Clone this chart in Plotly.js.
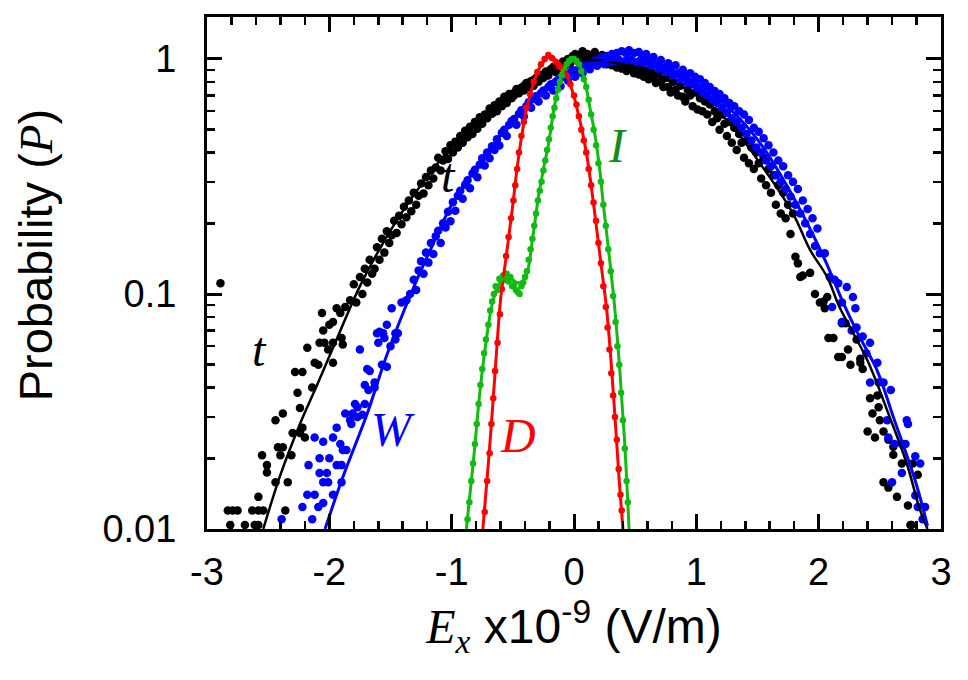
<!DOCTYPE html>
<html>
<head>
<meta charset="utf-8">
<script src="https://cdn.plot.ly/plotly-3.0.1.min.js"></script>
<style>html,body{margin:0;padding:0;background:#fff;}#chart{width:968px;height:680px;}</style>
</head>
<body>
<div id="chart"></div>
<script>
// ---- t (black) data points ----
const tPtsX = [-2.89,-2.81,-2.69,-2.61,-2.58,-2.83,-2.79,-2.75,-2.63,-2.58,-2.54,-2.58,-2.36,-2.51,-2.51,-2.55,-2.44,-2.34,-2.42,-2.38,-2.40,-2.31,-2.44,-2.38,-2.30,-2.24,-2.22,-2.24,-2.26,-2.28,-2.22,-2.20,-2.14,-2.18,-2.12,-2.09,-2.08,-2.05,-2.00,-2.06,-2.04,-2.01,-1.97,-1.97,-1.94,-1.91,-1.87,-1.89,-1.90,-1.97,
 -1.83,-1.80,-1.78,-1.75,-1.73,-1.71,-1.69,-1.67,-1.65,-1.63,-1.61,-1.59,-1.57,-1.55,-1.53,-1.51,-1.49,-1.47,-1.45,-1.43,-1.41,-1.39,-1.37,-1.35,-1.33,-1.31,-1.29,-1.27,-1.25,-1.23,-1.21,-1.19,-1.17,-1.15,-1.13,-1.11,-1.09,-1.07,-1.05,-1.03,-1.01,-0.99,-0.97,-0.95,-0.93,-0.91,-0.89,-0.87,-0.85,-0.83,-0.81,-0.79,-0.77,-0.75,-0.73,-0.71,-0.69,-0.67,-0.65,-0.63,-0.61,-0.59,-0.57,-0.55,-0.53,-0.51,-0.49,-0.47,-0.45,-0.43,-0.41,-0.39,-0.37,-0.35,-0.33,-0.31,-0.29,-0.27,-0.25,-0.23,-0.21,-0.19,-0.17,-0.15,-0.13,-0.11,-0.09,-0.07,-0.05,-0.03,-0.01,0.01,0.03,0.05,0.07,0.09,0.11,0.13,0.15,0.17,0.19,0.21,0.23,0.25,0.27,0.29,0.31,0.33,0.35,0.37,0.39,0.41,0.43,0.45,0.47,0.49,0.51,0.53,0.55,0.57,0.59,0.61,0.63,0.65,0.67,0.69,0.71,0.73,0.75,0.77,0.79,0.81,0.83,0.85,0.87,0.89,0.91,0.93,0.95,0.97,0.99,1.01,1.03,1.05,1.07,1.09,1.11,1.13,1.15,1.17,1.19,1.21,1.23,1.25,1.27,1.29,1.31,1.33,1.35,1.37,1.39,1.41,1.43,1.45,1.47,1.49,1.51,1.53,1.55,1.57,1.59,1.61,1.63,1.65,1.67,1.69,1.71,1.73,1.75,1.77,1.79,1.81,1.83,1.85,
 1.87,1.93,1.97,2.01,2.04,2.07,2.05,2.08,2.12,2.16,2.19,2.22,2.19,2.24,2.26,2.31,2.34,2.34,2.36,2.42,2.48,2.50,2.44,2.49,2.40,2.46,2.53,2.57,2.61,2.68,2.77,2.81,2.57,2.61,2.53,2.64,2.76,2.75,2.73,2.71,2.85,2.79];
const tPtsY = [0.111,0.0104,0.0104,0.0104,0.0104,0.012,0.012,0.012,0.012,0.012,0.012,0.0137,0.012,0.0174,0.0187,0.0206,0.0158,0.0158,0.0223,0.0223,0.0206,0.0206,0.029,0.031,0.0256,0.0256,0.027,0.0327,0.038,0.0466,0.0466,0.0245,0.040,0.059,0.051,0.050,0.062,0.070,0.074,0.083,0.062,0.058,0.062,0.051,0.087,0.083,0.088,0.061,0.065,0.076,
 0.094,0.110,0.092,0.118,0.100,0.128,0.112,0.140,0.122,0.128,0.158,0.140,0.172,0.150,0.185,0.165,0.178,0.205,0.182,0.215,0.198,0.235,0.212,0.250,0.225,0.270,0.240,0.262,0.295,0.268,0.315,0.290,0.335,0.310,0.345,0.380,0.335,0.370,0.405,0.375,0.430,0.400,0.445,0.420,0.470,0.440,0.495,0.465,0.515,0.480,0.540,0.505,0.565,0.530,0.580,0.560,0.615,0.585,0.635,0.600,0.660,0.630,0.690,0.650,0.710,0.680,0.700,0.745,0.715,0.750,0.735,0.790,0.760,0.805,0.770,0.830,0.800,0.855,0.830,0.885,0.850,0.905,0.925,0.880,0.950,0.915,0.975,0.940,1.00,0.960,1.03,1.05,0.98,1.04,1.08,0.99,1.05,1.02,0.97,1.07,1.01,0.96,1.04,0.99,0.95,1.01,0.94,0.99,0.92,0.97,0.91,0.96,0.89,0.94,0.92,0.87,0.93,0.86,0.91,0.84,0.89,0.82,0.88,0.84,0.79,0.86,0.80,0.76,0.83,0.76,0.72,0.80,0.74,0.70,0.77,0.69,0.66,0.74,0.70,0.63,0.72,0.61,0.68,0.60,0.66,0.58,0.64,0.54,0.60,0.56,0.50,0.58,0.53,0.47,0.54,0.44,0.51,0.41,0.48,0.44,0.38,0.45,0.36,0.42,0.34,0.40,0.36,0.31,0.38,0.29,0.34,0.27,0.32,0.24,0.29,0.22,0.27,0.21,0.24,0.18,0.22,
 0.144,0.135,0.118,0.120,0.123,0.100,0.092,0.093,0.097,0.087,0.065,0.065,0.054,0.054,0.075,0.075,0.058,0.050,0.064,0.051,0.053,0.048,0.036,0.037,0.029,0.031,0.033,0.026,0.0245,0.026,0.024,0.0224,0.019,0.019,0.017,0.015,0.0207,0.0158,0.0137,0.0104,0.0104,0.0126];

// ---- W (blue) data points ----
const wPtsX = [-2.39,-2.14,-2.22,-2.18,-2.12,-2.09,-2.05,-2.17,-2.05,-2.01,-1.97,-2.08,-2.02,-2.12,-2.05,-2.08,-1.97,-1.91,-1.89,-1.94,-1.90,-1.90,-2.00,-1.94,-1.86,-1.83,-1.77,-1.81,-1.77,-1.87,-1.82,-1.73,-1.79,-1.71,-1.68,-1.63,-1.71,-1.69,-1.67,-1.63,-1.75,-1.60,-1.61,-1.56,-1.55,-1.53,-1.59,-1.57,-1.53,-1.50,-1.46,-1.44,-1.46,-1.49,-1.41,-1.37,
 -1.34,-1.31,-1.29,-1.27,-1.25,-1.23,-1.21,-1.19,-1.17,-1.15,-1.13,-1.11,-1.09,-1.07,-1.05,-1.03,-1.01,-0.99,-0.97,-0.95,-0.93,-0.91,-0.89,-0.87,-0.85,-0.83,-0.81,-0.79,-0.77,-0.75,-0.73,-0.71,-0.69,-0.67,-0.65,-0.63,-0.61,-0.59,-0.57,-0.55,-0.53,-0.51,-0.49,-0.47,-0.45,-0.43,-0.41,-0.39,-0.37,-0.35,-0.33,-0.31,-0.29,-0.27,-0.25,-0.23,-0.21,-0.19,-0.17,-0.15,-0.13,-0.11,-0.09,-0.07,-0.05,-0.03,-0.01,0.01,0.03,0.05,0.07,0.09,0.11,0.13,0.15,0.17,0.19,0.21,0.23,0.25,0.27,0.29,0.31,0.33,0.35,0.37,0.39,0.41,0.43,0.45,0.47,0.49,0.51,0.53,0.55,0.57,0.59,0.61,0.63,0.65,0.67,0.69,0.71,0.73,0.75,0.77,0.79,0.81,0.83,0.85,0.87,0.89,0.91,0.93,0.95,0.97,0.99,1.01,1.03,1.05,1.07,1.09,1.11,1.13,1.15,1.17,1.19,1.21,1.23,1.25,1.27,1.29,1.31,1.33,1.35,1.37,1.39,1.41,1.43,1.45,1.47,1.49,1.51,1.53,1.55,1.57,1.59,1.61,1.63,1.65,1.67,1.69,1.71,1.73,1.75,1.77,1.79,1.81,1.83,1.85,1.87,1.89,1.91,1.93,1.95,1.97,1.99,
 2.01,2.05,2.09,2.13,2.16,2.23,2.28,2.11,2.19,2.30,2.19,2.31,2.27,2.36,2.42,2.39,2.48,2.42,2.49,2.53,2.59,2.56,2.57,2.62,2.68,2.72,2.73,2.71,2.79,2.83,2.68,2.60,2.79,2.81,2.85,2.87];
const wPtsY = [0.011,0.011,0.0124,0.014,0.014,0.0124,0.0129,0.0187,0.0158,0.0158,0.014,0.0173,0.0173,0.0245,0.0235,0.020,0.0245,0.023,0.0217,0.0187,0.0187,0.0158,0.020,0.027,0.0217,0.029,0.030,0.031,0.033,0.031,0.028,0.0306,0.034,0.034,0.039,0.040,0.041,0.048,0.047,0.042,0.058,0.062,0.068,0.068,0.065,0.074,0.069,0.050,0.049,0.060,0.068,0.068,0.064,0.087,0.092,0.094,
 0.100,0.115,0.104,0.126,0.138,0.122,0.150,0.136,0.165,0.148,0.176,0.186,0.165,0.200,0.192,0.224,0.204,0.246,0.226,0.262,0.275,0.254,0.292,0.305,0.282,0.326,0.338,0.314,0.356,0.378,0.352,0.400,0.378,0.425,0.410,0.455,0.428,0.485,0.500,0.470,0.525,0.545,0.555,0.525,0.585,0.605,0.570,0.630,0.655,0.620,0.675,0.695,0.660,0.715,0.735,0.700,0.760,0.780,0.735,0.800,0.815,0.765,0.840,0.855,0.810,0.875,0.895,0.840,0.900,0.920,0.870,0.935,0.955,0.905,0.965,0.985,0.935,0.995,1.02,0.95,1.03,0.97,1.05,0.98,1.06,0.99,1.08,0.97,1.05,1.09,0.99,1.06,0.97,1.07,1.00,0.96,1.05,0.98,0.94,1.02,0.95,0.91,0.99,0.92,0.88,0.96,0.90,0.85,0.94,0.87,0.82,0.90,0.84,0.79,0.87,0.78,0.84,0.75,0.82,0.72,0.79,0.70,0.76,0.67,0.73,0.65,0.71,0.62,0.68,0.59,0.65,0.56,0.63,0.54,0.60,0.51,0.58,0.48,0.55,0.45,0.51,0.42,0.49,0.40,0.46,0.37,0.43,0.35,0.40,0.32,0.37,0.30,0.35,0.28,0.32,0.26,0.30,0.24,0.28,0.22,0.25,0.20,0.23,0.18,0.21,0.16,0.19,
 0.149,0.149,0.118,0.115,0.111,0.107,0.097,0.088,0.092,0.087,0.076,0.072,0.070,0.066,0.062,0.056,0.051,0.042,0.042,0.042,0.039,0.029,0.0245,0.023,0.023,0.029,0.028,0.023,0.0204,0.019,0.0173,0.0158,0.0139,0.0124,0.011,0.0124];

// ---- D (red) data points ----
const dPtsX = [-0.73,-0.71,-0.69,-0.675,-0.66,-0.645,-0.625,-0.605,-0.59,-0.575,-0.555,-0.535,-0.515,-0.495,-0.48,-0.465,-0.45,-0.43,-0.41,-0.39,-0.36,-0.33,-0.30,-0.27,-0.24,-0.21,-0.18,-0.15,-0.12,-0.09,-0.06,-0.03,0.0,0.02,0.04,0.06,0.08,0.10,0.12,0.14,0.16,0.18,0.20,0.22,0.24,0.26,0.275,0.29,0.305,0.32,0.335,0.35,0.365,0.38,0.39];
const dPtsY = [0.0118,0.016,0.021,0.028,0.036,0.047,0.062,0.082,0.105,0.12,0.145,0.175,0.21,0.25,0.29,0.34,0.40,0.47,0.54,0.62,0.71,0.80,0.88,0.95,1.00,1.04,1.01,0.97,0.93,0.90,0.85,0.78,0.70,0.64,0.57,0.50,0.45,0.40,0.34,0.29,0.245,0.205,0.165,0.135,0.108,0.088,0.072,0.058,0.046,0.037,0.030,0.024,0.018,0.014,0.012];

// ---- I (green) data points ----
const iPtsX = [-0.87,-0.855,-0.84,-0.825,-0.81,-0.795,-0.78,-0.765,-0.75,-0.735,-0.72,-0.70,-0.685,-0.67,-0.655,-0.64,-0.625,-0.61,-0.595,-0.58,-0.565,-0.55,-0.535,-0.52,-0.505,-0.49,-0.475,-0.46,-0.445,-0.43,-0.415,-0.40,-0.385,-0.37,-0.355,-0.34,-0.325,-0.31,-0.295,-0.28,-0.265,-0.25,-0.235,-0.22,-0.205,-0.19,-0.175,-0.16,-0.145,-0.13,-0.115,-0.10,-0.08,-0.06,-0.04,-0.02,0.0,0.02,0.04,0.06,0.08,0.10,0.12,0.14,0.16,0.18,0.20,0.22,0.24,0.26,0.28,0.30,0.32,0.34,0.355,0.37,0.385,0.40,0.415,0.43,0.44];
const iPtsY = [0.011,0.013,0.016,0.019,0.023,0.028,0.034,0.041,0.048,0.056,0.064,0.074,0.085,0.093,0.100,0.108,0.104,0.116,0.112,0.120,0.115,0.122,0.113,0.118,0.108,0.110,0.104,0.102,0.100,0.108,0.112,0.118,0.125,0.140,0.155,0.172,0.195,0.22,0.25,0.275,0.30,0.335,0.37,0.41,0.455,0.51,0.57,0.62,0.68,0.74,0.80,0.85,0.90,0.95,0.98,1.0,1.0,0.98,0.95,0.89,0.82,0.76,0.67,0.58,0.50,0.43,0.36,0.30,0.24,0.195,0.155,0.125,0.098,0.076,0.060,0.050,0.038,0.029,0.022,0.016,0.013];

// ---- fitted curves ----
const tFitX = [-2.54,-2.40,-2.24,-2.10,-1.97,-1.75,-1.59,-1.365,-1.095,-0.875,-0.605,-0.335,-0.10,0.15,0.43,0.70,0.97,1.25,1.52,1.79,1.93,2.07,2.17,2.40,2.58,2.72,2.83,2.89];
const tFitY = [0.010,0.017,0.028,0.041,0.059,0.108,0.155,0.24,0.37,0.50,0.67,0.84,0.94,0.99,0.94,0.84,0.72,0.55,0.36,0.22,0.154,0.118,0.088,0.052,0.030,0.019,0.012,0.010];
const wFitX = [-2.035,-1.89,-1.69,-1.53,-1.32,-1.16,-0.99,-0.74,-0.47,-0.20,0.02,0.155,0.43,0.70,0.97,1.25,1.52,1.79,2.04,2.20,2.32,2.48,2.61,2.79,2.89];
const wFitY = [0.010,0.0166,0.031,0.055,0.104,0.16,0.245,0.38,0.57,0.76,0.88,0.95,1.0,0.94,0.81,0.63,0.44,0.26,0.144,0.092,0.068,0.047,0.030,0.016,0.0103];
const dFitX = [-0.745,-0.70,-0.66,-0.63,-0.60,-0.55,-0.50,-0.46,-0.40,-0.36,-0.28,-0.20,-0.09,-0.01,0.05,0.09,0.115,0.165,0.22,0.265,0.30,0.335,0.37,0.40];
const dFitY = [0.010,0.019,0.036,0.060,0.095,0.15,0.24,0.36,0.57,0.70,0.92,1.02,0.92,0.72,0.54,0.43,0.36,0.23,0.135,0.088,0.054,0.030,0.016,0.010];
const iFitX = [-0.88,-0.82,-0.77,-0.72,-0.67,-0.62,-0.57,-0.52,-0.47,-0.42,-0.38,-0.34,-0.29,-0.25,-0.21,-0.155,-0.10,-0.05,-0.01,0.04,0.09,0.13,0.17,0.21,0.24,0.295,0.335,0.376,0.417,0.45];
const iFitY = [0.010,0.020,0.038,0.062,0.090,0.108,0.117,0.117,0.112,0.113,0.125,0.17,0.26,0.34,0.43,0.65,0.86,0.97,1.0,0.95,0.80,0.62,0.48,0.34,0.24,0.135,0.085,0.046,0.022,0.010];

// ---- ticks / labels ----
const xTickVals = [-3,-2,-1,0,1,2,3];
const xTickText = ['-3','-2','-1','0','1','2','3'];
const yTickVals = [0.01,0.1,1];
const yTickText = ['0.01','0.1','1'];
const yMinorVals = [0.02,0.03,0.04,0.05,0.06,0.07,0.08,0.09,0.2,0.3,0.4,0.5,0.6,0.7,0.8,0.9];
const labelText = ['t','t','W','D','I'];
const labelX = [-2.567,-1.03,-1.48,-0.458,0.352];
const labelY = [0.058,0.318,0.0264,0.0251,0.43];
const labelColor = ['#000000','#000000','#0000ff','#ff0000','#168c16'];
const yTitleText = 'Probability (<span style="font-family:Times New Roman, Liberation Serif, serif"><i>P</i></span>)';
const xTitleText = '<span style="font-family:Times New Roman, Liberation Serif, serif"><i>E<sub>x</sub></i></span> x10<sup>-9</sup> (V/m)';

const BLACK='#000000', BLUE='#0000ff', RED='#ff0000', GREEN='#11bb11';
const SANS = 'Arial, "Liberation Sans", sans-serif';
const SERIF = '"Times New Roman", "Liberation Serif", serif';

const traces = [
  {x:tPtsX, y:tPtsY, mode:'markers', marker:{color:BLACK, size:8.5}, showlegend:false, hoverinfo:'skip'},
  {x:wPtsX, y:wPtsY, mode:'markers', marker:{color:BLUE, size:8.5}, showlegend:false, hoverinfo:'skip'},
  {x:tFitX, y:tFitY, mode:'lines', line:{color:BLACK, width:2.5, shape:'spline', smoothing:1}, showlegend:false, hoverinfo:'skip'},
  {x:wFitX, y:wFitY, mode:'lines', line:{color:BLUE, width:3, shape:'spline', smoothing:1}, showlegend:false, hoverinfo:'skip'},
  {x:dPtsX, y:dPtsY, mode:'markers', marker:{color:RED, size:6.5}, showlegend:false, hoverinfo:'skip'},
  {x:iPtsX, y:iPtsY, mode:'markers', marker:{color:GREEN, size:6.5}, showlegend:false, hoverinfo:'skip'},
  {x:dFitX, y:dFitY, mode:'lines', line:{color:RED, width:3, shape:'spline', smoothing:1}, showlegend:false, hoverinfo:'skip'},
  {x:iFitX, y:iFitY, mode:'lines', line:{color:GREEN, width:3, shape:'spline', smoothing:1}, showlegend:false, hoverinfo:'skip'}
];

const annotations = labelText.map((t,i)=>({
  x:labelX[i], y:Math.log10(labelY[i]), xref:'x', yref:'y', text:'<i>'+t+'</i>', showarrow:false,
  font:{family:SERIF, size:48, color:labelColor[i]}, xanchor:'center', yanchor:'middle'
}));
annotations.push({
  x:-0.234, y:0.535, xref:'paper', yref:'paper', text:yTitleText, textangle:-90, showarrow:false,
  font:{family:SANS, size:47, color:'#000'}, xanchor:'center', yanchor:'middle'
});

const layout = {
  width:968, height:680,
  margin:{l:207, r:27, t:17, b:151},
  paper_bgcolor:'#ffffff', plot_bgcolor:'#ffffff',
  font:{family:SANS, color:'#000'},
  xaxis:{
    range:[-3,3], tickmode:'array', tickvals:xTickVals, ticktext:xTickText,
    ticks:'inside', ticklen:15, tickwidth:3, tickcolor:'#000',
    showline:true, linewidth:3, linecolor:'#000', mirror:'ticks',
    showgrid:false, zeroline:false, ticklabelstandoff:7,
    minor:{ticks:'inside', dtick:0.2, tick0:0, ticklen:8, tickwidth:2.5, tickcolor:'#000', showgrid:false},
    tickfont:{family:SANS, size:38, color:'#000'},
    title:{text:xTitleText, font:{family:SANS, size:48, color:'#000'}, standoff:0}
  },
  yaxis:{
    type:'log', range:[-2, 0.1787], tickmode:'array', tickvals:yTickVals, ticktext:yTickText,
    ticks:'inside', ticklen:15, tickwidth:3, tickcolor:'#000',
    showline:true, linewidth:3, linecolor:'#000', mirror:'ticks',
    showgrid:false, zeroline:false, ticklabelstandoff:20,
    minor:{ticks:'inside', tickmode:'array', tickvals:yMinorVals, ticklen:8, tickwidth:2.5, tickcolor:'#000', showgrid:false},
    tickfont:{family:SANS, size:38, color:'#000'}
  },
  annotations:annotations,
  showlegend:false
};

Plotly.newPlot('chart', traces, layout, {displayModeBar:false, staticPlot:true});
</script>
</body>
</html>
